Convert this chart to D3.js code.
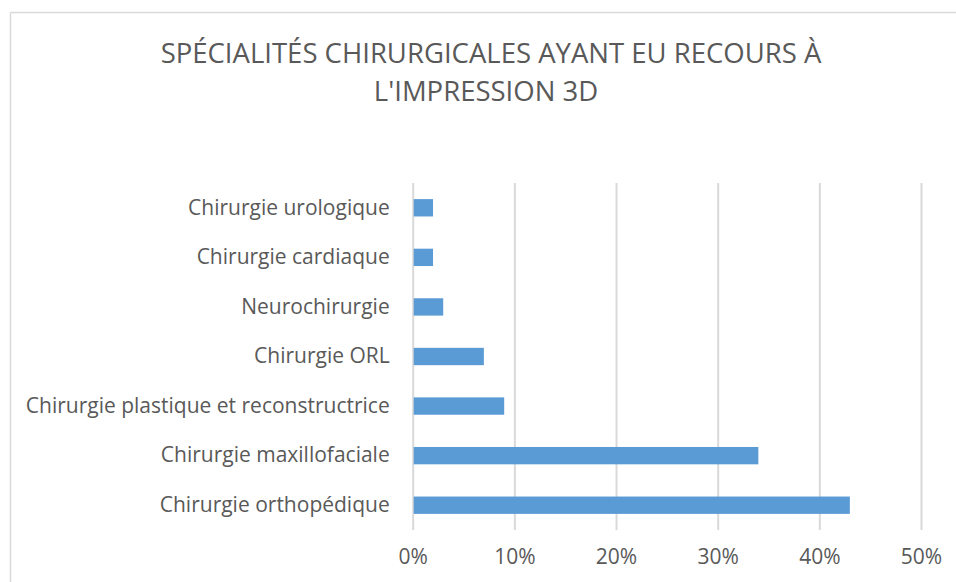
<!DOCTYPE html>
<html><head><meta charset="utf-8">
<script src="https://cdn.jsdelivr.net/npm/d3@7"></script>
<style>
html,body{margin:0;padding:0;background:#fff;}
svg{display:block;}
text{font-family:"Open Sans",Lato,sans-serif;fill:#595959;}
</style></head>
<body>
<svg id="chart" width="956" height="582"></svg>
<script>
const categories = [
  "Chirurgie urologique",
  "Chirurgie cardiaque",
  "Neurochirurgie",
  "Chirurgie ORL",
  "Chirurgie plastique et reconstructrice",
  "Chirurgie maxillofaciale",
  "Chirurgie orthopédique"
];
const values = [2, 2, 3, 7, 9, 34, 43];
const tickValues = [0, 10, 20, 30, 40, 50];
const titleLines = ["SPÉCIALITÉS CHIRURGICALES AYANT EU RECOURS À", "L'IMPRESSION 3D"];

const svg = d3.select("#chart");
const W = 956, H = 582;

// chart border (top and left visible)
svg.append("line").attr("x1",10.5).attr("x2",W).attr("y1",12.5).attr("y2",12.5).attr("stroke","#d9d9d9").attr("stroke-width",1.5);
svg.append("line").attr("x1",10.5).attr("x2",10.5).attr("y1",12.5).attr("y2",H).attr("stroke","#d9d9d9").attr("stroke-width",1.5);

const x = d3.scaleLinear().domain([0,50]).range([412.7, 921]);
const y = d3.scaleBand().domain(categories).range([183, 530]).paddingInner(0.65).paddingOuter(0.325);

// gridlines
const grid = svg.append("g").attr("transform","translate(0,183)")
  .call(d3.axisBottom(x).tickValues(tickValues).tickSize(530-183).tickFormat(""));
grid.select(".domain").remove();
grid.selectAll("line").attr("stroke","#d9d9d9").attr("stroke-width",2);

// bars
svg.append("g").selectAll("rect").data(categories).join("rect")
  .attr("x", x(0)+1)
  .attr("y", d => y(d))
  .attr("width", (d,i) => x(values[i]) - x(0) - 1)
  .attr("height", y.bandwidth())
  .attr("fill", "#5b9bd5");

// x axis labels
const xa = svg.append("g").attr("transform","translate(0,530)")
  .call(d3.axisBottom(x).tickValues(tickValues).tickSize(0).tickPadding(0).tickFormat(d => d + "%"));
xa.select(".domain").remove();
xa.selectAll("text").attr("dy", null).attr("y", 34)
  .style("font-size","21px").style("font-family",'"Open Sans",sans-serif').attr("fill","#595959");

// y axis labels
const ya = svg.append("g").attr("transform","translate(412.7,0)")
  .call(d3.axisLeft(y).tickSize(0).tickPadding(23));
ya.select(".domain").remove();
ya.selectAll("text").style("font-size","21px").style("font-family",'"Open Sans",sans-serif').attr("fill","#595959");

// title
const titleX = [491, 486];
svg.append("g").selectAll("text").data(titleLines).join("text")
  .attr("x", (d,i) => titleX[i]).attr("y", (d,i) => 62.7 + i*38.5)
  .attr("text-anchor","middle")
  .style("font-size","27.5px").style("font-weight","400")
  .text(d => d);
</script>
</body></html>
